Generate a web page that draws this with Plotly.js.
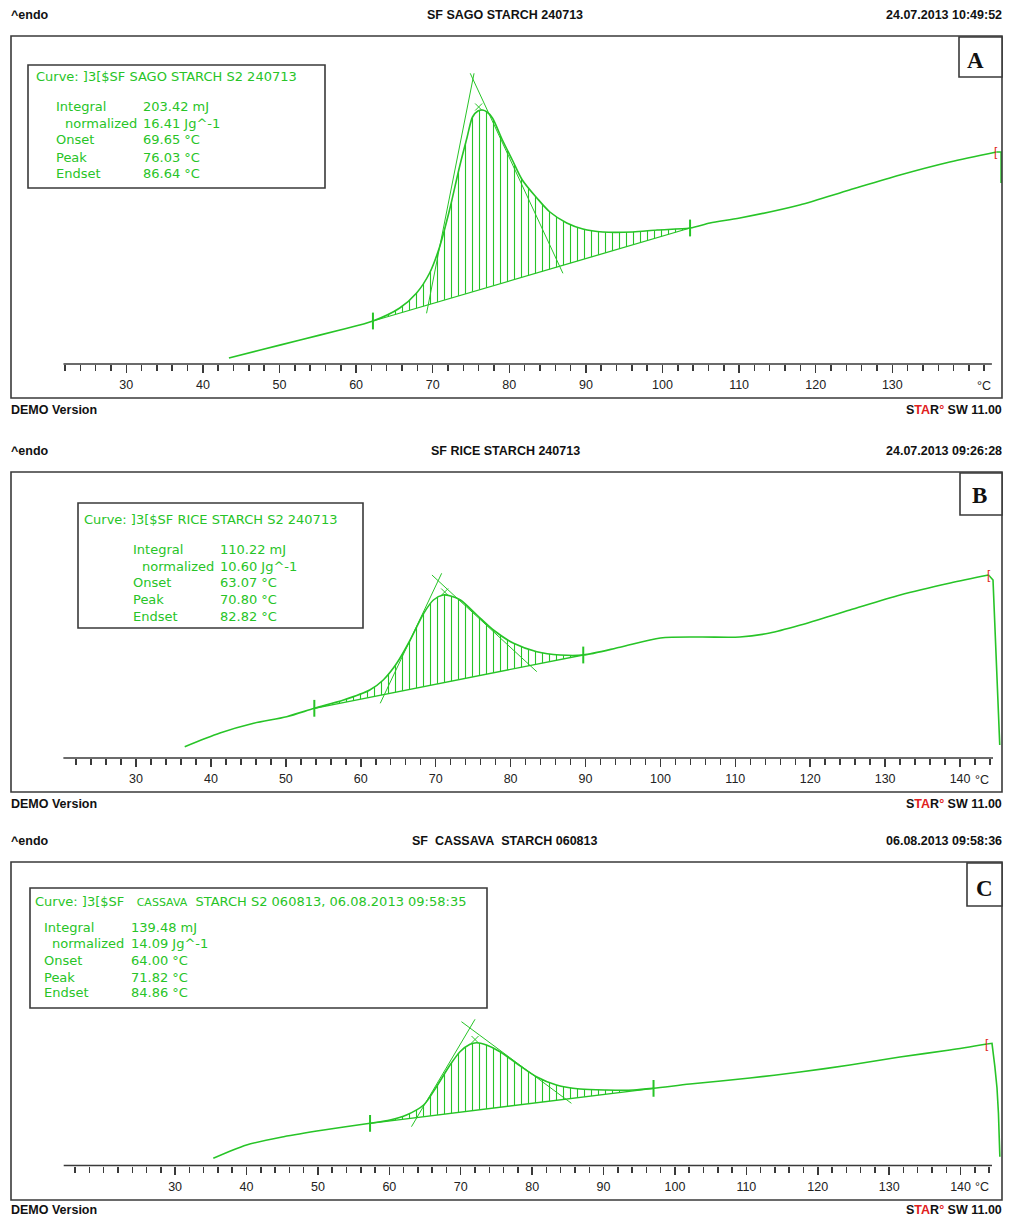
<!DOCTYPE html>
<html>
<head>
<meta charset="utf-8">
<script src="https://cdn.plot.ly/plotly-3.0.1.min.js"></script>
<style>html,body{margin:0;padding:0;background:#fff;}#chart{width:1010px;height:1218px;}</style>
</head>
<body>
<div id="chart"></div>
<script>
// ---------------- DATA ----------------
// Panel A : SF SAGO STARCH
const tempA = [43.4, 47.5, 52.7, 57.9, 62.2, 65.7, 67.9, 69.6, 70.9, 72.2, 73.5, 74.5, 75.2, 75.9, 76.5, 77.1, 77.8, 79.1, 80.4, 81.7, 83.6, 85.3, 87.5, 89.6, 92.2, 96.1, 99.3, 103.6, 106.2, 110.1, 117.9, 124.4, 131.0, 137.5, 143.6, 144.2, 144.2];
const heatA = [6, 14, 24, 34, 43, 56, 71, 91, 117, 154, 197, 227, 247, 253, 254, 252, 246, 224, 204, 184, 166, 152, 141, 135, 132, 132, 134, 136, 141, 146, 159, 174, 189, 202, 212, 212, 181];
const limitsA = [62.2, 103.6];
const riseTanAT = [69.2, 75.4], riseTanAY = [50.7, 290.7];
const fallTanAT = [74.9, 87.0], fallTanAY = [290.7, 90.7];
const peakA = [76.0, 257];
const endMarkA = [143.6, 212];

// Panel B : SF RICE STARCH
const tempB = [36.5, 41.2, 45.7, 50.1, 53.8, 57.7, 61.2, 63.0, 64.8, 66.6, 68.4, 69.7, 71.0, 72.0, 73.3, 75.5, 77.7, 80.4, 83.5, 86.6, 89.7, 94.6, 100.0, 105.3, 110.6, 114.6, 118.7, 125.3, 132.0, 138.7, 143.8, 144.4, 145.3];
const heatB = [11.3, 25, 34.7, 41.3, 49.7, 58, 68, 78, 94.7, 118, 144.7, 158, 163, 162, 158, 143, 128, 114.7, 106.3, 103, 103, 110.7, 120, 121, 121, 125, 133, 148, 163, 175, 183, 178, 13];
const limitsB = [53.8, 89.7];
const riseTanBT = [62.6, 70.8], riseTanBY = [54.7, 184.7];
const fallTanBT = [69.5, 83.5], fallTanBY = [183, 86.3];
const peakB = [71.2, 166];
const endMarkB = [143.8, 183];

// Panel C : SF CASSAVA STARCH
const tempC = [35.35, 40.0, 45.2, 50.8, 57.3, 60.1, 62.4, 64.8, 66.6, 68.5, 69.9, 71.3, 72.2, 73.6, 75.5, 77.8, 80.6, 83.4, 86.7, 90.4, 94.2, 97.0, 102.1, 110.5, 117.5, 124.5, 131.5, 138.5, 143.7, 144.4, 144.8, 145.1, 145.3, 145.5];
const heatC = [7.2, 20.5, 28.8, 35.5, 42.2, 45.5, 50.5, 60.5, 78.8, 100.5, 113.8, 121.2, 122.8, 120.5, 113.8, 102.2, 88.8, 80.5, 76.5, 75.5, 75.5, 77.2, 81.5, 87.5, 93.5, 100.5, 108.5, 115.5, 121.5, 122.2, 98.8, 77.5, 52.5, 8.8];
const limitsC = [57.3, 97.0];
const riseTanCT = [63.1, 72.0], riseTanCY = [38.8, 146.2];
const fallTanCT = [70.1, 85.5], fallTanCY = [143.8, 62.2];
const peakC = [72.0, 126];
const endMarkC = [143.7, 121.5];

// tick labels
const tickLabelsA = ['30','40','50','60','70','80','90','100','110','120','130'];
const tickLabelsBC = ['30','40','50','60','70','80','90','100','110','120','130','140'];

// header / info texts
const titles = ['SF SAGO STARCH 240713', 'SF RICE STARCH 240713', 'SF\u00a0\u00a0CASSAVA\u00a0\u00a0STARCH 060813'];
const dates = ['24.07.2013 10:49:52', '24.07.2013 09:26:28', '06.08.2013 09:58:36'];
const curveNames = ['Curve: ]3[$SF SAGO STARCH S2 240713', 'Curve: ]3[$SF RICE STARCH S2 240713',
  'Curve: ]3[$SF\u00a0\u00a0\u00a0<span style="font-size:11px">CASSAVA</span>\u00a0\u00a0STARCH S2 060813, 06.08.2013 09:58:35'];
const infoLabels = ['Integral', 'normalized', 'Onset', 'Peak', 'Endset'];
const infoValuesA = ['203.42 mJ', '16.41 Jg^-1', '69.65 \u00b0C', '76.03 \u00b0C', '86.64 \u00b0C'];
const infoValuesB = ['110.22 mJ', '10.60 Jg^-1', '63.07 \u00b0C', '70.80 \u00b0C', '82.82 \u00b0C'];
const infoValuesC = ['139.48 mJ', '14.09 Jg^-1', '64.00 \u00b0C', '71.82 \u00b0C', '84.86 \u00b0C'];
const panelLetters = ['A', 'B', 'C'];

// ---------------- LAYOUT HELPERS ----------------
const W = 1010, H = 1218;
const GREEN = '#27c427';
const FRAME = '#3a3a3a';
const px = v => v / W;
const py = v => 1 - v / H;

const panels = [
  {ax: '', temp: tempA, heat: heatA, lim: limitsA, rt: [riseTanAT, riseTanAY], ft: [fallTanAT, fallTanAY], peak: peakA, endMark: endMarkA,
   xr: [21.74, 144.32], yTop: 36, yAxis: 364, yBot: 398, ticks: [22, 142], axisLine: [21.8, 143.0],
   labels: tickLabelsA, labelVals: [30,40,50,60,70,80,90,100,110,120,130], degX: 984, labelY: 384,
   header: 15, footer: 410, box: [959, 37, 1002, 77], letterPos: [975, 61],
   info: {box: [28, 65, 325, 188], title: [35, 76], lx: 55, nx: 64, vx: 142, rows: [107, 124, 140, 157, 174], vals: infoValuesA}},
  {ax: '2', temp: tempB, heat: heatB, lim: limitsB, rt: [riseTanBT, riseTanBY], ft: [fallTanBT, fallTanBY], peak: peakB, endMark: endMarkB,
   xr: [20.25, 145.6], yTop: 472, yAxis: 758, yBot: 792, ticks: [22, 144], axisLine: [20.3, 144.4],
   labels: tickLabelsBC, labelVals: [30,40,50,60,70,80,90,100,110,120,130,140], degX: 982, labelY: 778,
   header: 451, footer: 804, box: [960, 473, 1002, 515], letterPos: [979, 495],
   info: {box: [78, 503, 363, 628], title: [83, 519], lx: 132, nx: 141, vx: 219, rows: [549, 566, 582, 599, 616], vals: infoValuesB}},
  {ax: '3', temp: tempC, heat: heatC, lim: limitsC, rt: [riseTanCT, riseTanCY], ft: [fallTanCT, fallTanCY], peak: peakC, endMark: endMarkC,
   xr: [14.3, 145.8], yTop: 862, yAxis: 1165.5, yBot: 1200, ticks: [16, 144], axisLine: [14.4, 144.4],
   labels: tickLabelsBC, labelVals: [30,40,50,60,70,80,90,100,110,120,130,140], degX: 982, labelY: 1185,
   header: 841, footer: 1210, box: [967, 863, 1002, 906], letterPos: [984, 888],
   info: {box: [30, 888, 487, 1008], title: [34, 901], lx: 43, nx: 51, vx: 130, rows: [927, 943, 960, 977, 993], vals: infoValuesC}}
];

const traces = [];
const shapes = [];
const annotations = [];
const layout = {
  width: W, height: H, margin: {l: 0, r: 0, t: 0, b: 0},
  paper_bgcolor: '#fff', plot_bgcolor: 'rgba(0,0,0,0)', showlegend: false,
  font: {family: 'Liberation Sans, Arial, sans-serif', color: '#222'}
};

function ann(x, y, text, opts) {
  annotations.push(Object.assign({xref: 'paper', yref: 'paper', x: px(x), y: py(y), text: text, showarrow: false,
    xanchor: 'left', yanchor: 'middle', borderpad: 0, font: {size: 13, color: '#222'}}, opts || {}));
}

panels.forEach((p, i) => {
  const xa = 'x' + p.ax, ya = 'y' + p.ax;
  const xName = 'xaxis' + p.ax, yName = 'yaxis' + p.ax;
  const yRange = [0, p.yAxis - p.yTop];
  // minor tick positions every 2 degrees (those without a label)
  const minorVals = [];
  for (let t = p.ticks[0]; t <= p.ticks[1]; t += 2) {
    if (p.labelVals.indexOf(t) < 0) minorVals.push(t);
  }
  layout[xName] = {domain: [px(63), px(1002)], range: p.xr, anchor: ya, showgrid: false, zeroline: false, showline: false,
    tickmode: 'array', tickvals: p.labelVals, ticktext: p.labels, ticks: 'outside', ticklen: 8, tickwidth: 1.5, tickcolor: FRAME,
    minor: {tickmode: 'array', tickvals: minorVals, ticks: 'outside', ticklen: 6, tickwidth: 1.5, tickcolor: FRAME, showgrid: false},
    ticklabelstandoff: 1, tickfont: {family: 'Liberation Sans, Arial, sans-serif', size: 12.5, color: '#222'}, fixedrange: true};
  layout[yName] = {domain: [py(p.yAxis), py(p.yTop)], range: yRange, anchor: xa, visible: false, fixedrange: true};

  const i0 = p.temp.indexOf(p.lim[0]), i1 = p.temp.indexOf(p.lim[1]);
  const iEnd = p.temp.indexOf(p.endMark[0]);
  // integration baseline + hatched area
  traces.push({x: [p.temp[i0], p.temp[i1]], y: [p.heat[i0], p.heat[i1]], xaxis: xa, yaxis: ya, mode: 'lines',
    line: {color: GREEN, width: 1.3}, hoverinfo: 'skip'});
  traces.push({x: p.temp.slice(i0, i1 + 1), y: p.heat.slice(i0, i1 + 1), xaxis: xa, yaxis: ya, mode: 'lines',
    line: {color: GREEN, width: 0.1, shape: 'spline', smoothing: 0.8}, fill: 'tonexty', fillcolor: 'rgba(0,0,0,0)',
    fillpattern: {shape: '|', size: 7, solidity: 0.16, fgcolor: GREEN, bgcolor: 'rgba(0,0,0,0)'}, hoverinfo: 'skip'});
  // tangents
  traces.push({x: p.rt[0], y: p.rt[1], xaxis: xa, yaxis: ya, mode: 'lines', line: {color: GREEN, width: 1}, hoverinfo: 'skip'});
  traces.push({x: p.ft[0], y: p.ft[1], xaxis: xa, yaxis: ya, mode: 'lines', line: {color: GREEN, width: 1}, hoverinfo: 'skip'});
  // main DSC curve (smooth part) and the final drop at the end of the run
  traces.push({x: p.temp.slice(0, iEnd + 1), y: p.heat.slice(0, iEnd + 1), xaxis: xa, yaxis: ya, mode: 'lines',
    line: {color: GREEN, width: 1.6, shape: 'spline', smoothing: 0.8}, hoverinfo: 'skip'});
  traces.push({x: p.temp.slice(iEnd), y: p.heat.slice(iEnd), xaxis: xa, yaxis: ya, mode: 'lines',
    line: {color: GREEN, width: 1.6}, hoverinfo: 'skip'});
  // integration limit marks
  traces.push({x: [p.temp[i0], p.temp[i1]], y: [p.heat[i0], p.heat[i1]], xaxis: xa, yaxis: ya, mode: 'markers',
    marker: {symbol: 'line-ns', size: 12, line: {color: GREEN, width: 2}}, hoverinfo: 'skip'});
  // peak mark
  traces.push({x: [p.peak[0]], y: [p.peak[1]], xaxis: xa, yaxis: ya, mode: 'markers',
    marker: {symbol: 'x-thin', size: 7, line: {color: GREEN, width: 1}}, hoverinfo: 'skip'});
  // red end mark
  annotations.push({xref: xa, yref: ya, x: p.endMark[0], y: p.endMark[1], text: '[', showarrow: false,
    xanchor: 'center', yanchor: 'middle', font: {size: 12, color: '#e02020', family: 'Liberation Sans, Arial'}});

  // axis line
  shapes.push({type: 'line', xref: xa, yref: 'paper', x0: p.axisLine[0], x1: p.axisLine[1], y0: py(p.yAxis), y1: py(p.yAxis),
    line: {color: FRAME, width: 1.5}});
  // frame
  shapes.push({type: 'rect', xref: 'paper', yref: 'paper', x0: px(11), x1: px(1002), y0: py(p.yBot), y1: py(p.yTop),
    line: {color: FRAME, width: 1.6}});
  // letter box
  shapes.push({type: 'rect', xref: 'paper', yref: 'paper', x0: px(p.box[0]), x1: px(p.box[2]), y0: py(p.box[3]), y1: py(p.box[1]),
    line: {color: FRAME, width: 1.6}, fillcolor: '#fff'});
  ann(p.letterPos[0], p.letterPos[1], '<b>' + panelLetters[i] + '</b>', {xanchor: 'center',
    font: {family: 'Liberation Serif, DejaVu Serif, serif', size: 23, color: '#111'}});
  // info box
  shapes.push({type: 'rect', xref: 'paper', yref: 'paper', x0: px(p.info.box[0]), x1: px(p.info.box[2]), y0: py(p.info.box[3]), y1: py(p.info.box[1]),
    line: {color: FRAME, width: 1.6}, fillcolor: 'rgba(255,255,255,0)'});
  const infoFont = {family: 'DejaVu Sans, Liberation Sans, sans-serif', size: 13, color: GREEN};
  ann(p.info.title[0], p.info.title[1], curveNames[i], {font: infoFont});
  infoLabels.forEach((lab, k) => {
    ann(k === 1 ? p.info.nx : p.info.lx, p.info.rows[k], lab, {font: infoFont});
    ann(p.info.vx, p.info.rows[k], p.info.vals[k], {font: infoFont});
  });
  // degree label
  ann(p.degX, p.labelY + 2, '\u00b0C', {xanchor: 'center', font: {size: 12.5, color: '#222'}});
  // header
  const hf = {family: 'Liberation Sans, Arial, sans-serif', size: 12.5, color: '#111'};
  ann(10, p.header, '<b>^endo</b>', {font: hf});
  ann(505, p.header, '<b>' + titles[i] + '</b>', {xanchor: 'center', font: hf});
  ann(1003, p.header, '<b>' + dates[i] + '</b>', {xanchor: 'right', font: hf});
  // footer
  ann(10, p.footer, '<b>DEMO Version</b>', {font: hf});
  ann(1003, p.footer, '<b>S<span style="color:#e02020">TA</span>R<span style="color:#e02020">\u00b0</span> SW 11.00</b>',
    {xanchor: 'right', font: hf});
});

layout.shapes = shapes;
layout.annotations = annotations;
Plotly.newPlot('chart', traces, layout, {staticPlot: true, displayModeBar: false});
</script>
</body>
</html>
